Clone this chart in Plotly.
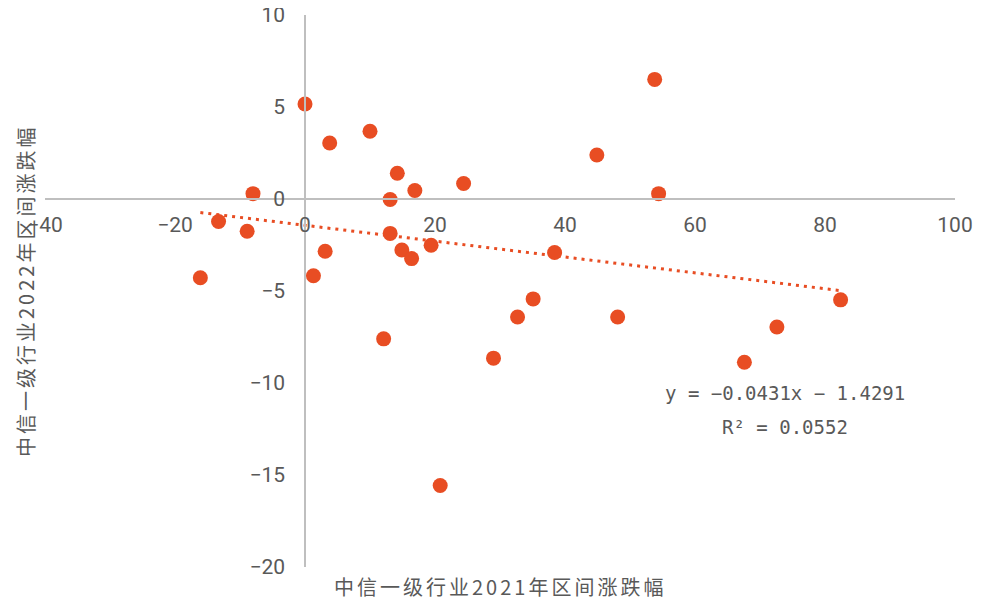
import plotly.graph_objects as go

# 2021 industry return (x) vs 2022 industry return (y), CITIC level-1 industries
x_2021 = [0.0, 3.8, 10.0, 14.2, 16.9, 13.1, 24.4, -8.0, -13.3, -8.9, -16.1, 1.3,
          3.1, 13.1, 14.9, 16.4, 19.4, 12.1, 20.8, 29.0, 32.7, 35.1, 38.4, 44.9,
          53.8, 54.4, 48.1, 67.6, 72.6, 82.4]
y_2022 = [5.16, 3.04, 3.68, 1.40, 0.46, -0.03, 0.84, 0.29, -1.22, -1.75, -4.28, -4.17,
          -2.84, -1.87, -2.77, -3.24, -2.51, -7.6, -15.57, -8.65, -6.41, -5.43, -2.91, 2.39,
          6.5, 0.29, -6.41, -8.87, -6.96, -5.48]

slope = -0.0431
intercept = -1.4291
r2 = 0.0552

x_range = [-40, 100]
y_range = [-20, 10]
x_ticks = [-40, -20, 0, 20, 40, 60, 80, 100]
y_ticks = [-20, -15, -10, -5, 0, 5, 10]
x_title = "中信一级行业2021年区间涨跌幅"
y_title = "中信一级行业2022年区间涨跌幅"

ORANGE = "#E84D23"
GREY_LINE = "#BFBFBF"
TXT = "#595959"
CJK = "Noto Sans CJK SC"
NUM = "Roboto"
MONO = "DejaVu Sans Mono"

trend_x = [min(x_2021), max(x_2021)]
trend_y = [slope * v + intercept for v in trend_x]

fig = go.Figure()
fig.add_trace(go.Scatter(
    x=trend_x, y=trend_y, mode="lines",
    line=dict(color=ORANGE, width=3, dash="3px,5px"),
    hoverinfo="skip", showlegend=False))
fig.add_trace(go.Scatter(
    x=x_2021, y=y_2022, mode="markers",
    marker=dict(color=ORANGE, size=15, line=dict(width=0)),
    showlegend=False))

def fmt(v):
    return ("−" if v < 0 else "") + f"{abs(v):g}"

def spaced(t):
    return f'<span style="letter-spacing:3px">{t}</span>'

xpos = (0 - y_range[0]) / (y_range[1] - y_range[0])
ypos = (0 - x_range[0]) / (x_range[1] - x_range[0])

# the page body adds an 8px offset, so the figure is 8px smaller than the window
fig.update_layout(
    width=980, height=592, autosize=False,
    margin=dict(l=37, r=33, t=7, b=33),
    paper_bgcolor="white", plot_bgcolor="white",
    font=dict(family=NUM, color=TXT, size=20),
    xaxis=dict(range=x_range, tickvals=x_ticks, ticktext=[fmt(v) for v in x_ticks],
               showgrid=False, zeroline=False, showline=True, linecolor=GREY_LINE,
               linewidth=1.5, anchor="free", position=xpos, automargin=False,
               ticks="outside", ticklen=7, tickcolor="rgba(0,0,0,0)",
               ticklabeloverflow="allow",
               tickfont=dict(family=NUM, size=21, color=TXT), domain=[0, 1]),
    yaxis=dict(range=y_range, tickvals=y_ticks, ticktext=[fmt(v) for v in y_ticks],
               showgrid=False, zeroline=False, showline=True, linecolor=GREY_LINE,
               linewidth=1.5, anchor="free", position=ypos, automargin=False,
               ticks="outside", ticklen=15, tickcolor="rgba(0,0,0,0)",
               ticklabeloverflow="allow",
               tickfont=dict(family=NUM, size=21, color=TXT), domain=[0, 1]),
    annotations=[
        dict(text=spaced(x_title), xref="paper", yref="paper", x=0.5, y=0, yshift=-19,
             showarrow=False, font=dict(family=CJK, size=20, color=TXT),
             xanchor="center", yanchor="middle"),
        dict(text=spaced(y_title), xref="paper", yref="paper", x=0, xshift=-20, y=0.5,
             textangle=-90, showarrow=False, font=dict(family=CJK, size=20, color=TXT),
             xanchor="center", yanchor="middle"),
        dict(text=f"y = {fmt(slope)}x − {abs(intercept)}", xref="x", yref="y",
             x=73.8, y=-10.53, showarrow=False, font=dict(family=MONO, size=19, color=TXT)),
        dict(text=f"R² = {r2}", xref="x", yref="y",
             x=73.8, y=-12.38, showarrow=False, font=dict(family=MONO, size=19, color=TXT)),
    ],
)

fig.write_html("out.html")
